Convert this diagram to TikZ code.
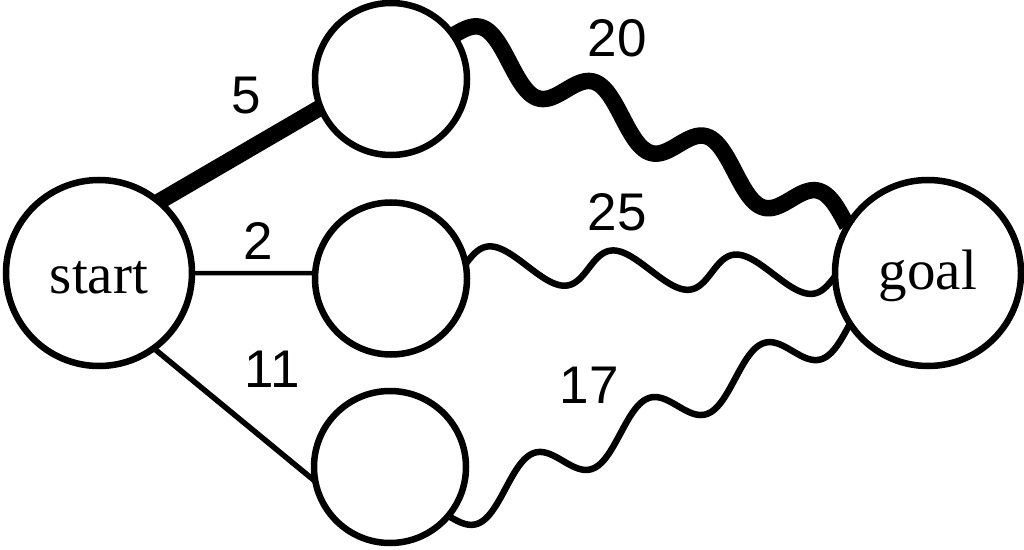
\documentclass[tikz,border=0pt]{standalone}
\usepackage{fontspec}
\setmainfont{Liberation Serif}
\newfontfamily\labelfont{Liberation Sans}
\usetikzlibrary{calc}
\begin{document}
\begin{tikzpicture}[x=1pt,y=1pt,
  bignode/.style={circle, draw, line width=6.5pt, minimum size=186pt, inner sep=0pt, outer sep=0pt, font=\fontsize{57}{60}\selectfont, text height=41pt},
  smallnode/.style={circle, draw, line width=6.5pt, minimum size=152pt, inner sep=0pt, outer sep=0pt},
  weight/.style={font=\labelfont\fontsize{53}{58}\selectfont, inner sep=0pt},
  heavy/.style={line width=16.5pt},
  thinline/.style={line width=#1},
  wave/.style n args={3}{to path={
    let \p1=(\tikztostart), \p2=(\tikztotarget),
        \n1={atan2(\y2-\y1,\x2-\x1)+90+(#3)} in
    -- plot[variable=\t, domain=0:1, samples=240]
      ({\x1+\t*(\x2-\x1)+(#2)*cos(\n1)*sin(\t*360*(#1))},
       {\y1+\t*(\y2-\y1)+(#2)*sin(\n1)*sin(\t*360*(#1))})
  }},
]
\useasboundingbox (0,0) rectangle (1024,549);
\node[bignode, text depth=0pt] (start) at (99,276) {start};
\node[smallnode] (top) at (391,470) {};
\node[smallnode] (mid) at (391,270.5) {};
\node[smallnode] (bottom) at (390,82) {};
\node[bignode, text depth=7pt] (goal) at (928,276) {goal};

\draw[heavy] (start.50) -- (top.202);
\draw[thinline=4.5pt] (start.0) -- (mid.176);
\draw[thinline=5.5pt] (start.-54) -- (bottom.191);
\draw[heavy, line join=round, wave={3.5}{21}{19}] (top.35) to (goal.150);
\draw[thinline=6.5pt, line join=round, wave={3}{19.5}{19}] (mid.11) to (goal.182);
\draw[thinline=6.5pt, line join=round, wave={3.5}{-21}{-19}] (bottom.-40) to (goal.213);

\node[weight] (w5) at (246,453) {5};
\node[weight] (w2) at (258.5,308) {2};
\node[weight] (w11) at (272.5,180) {11};
\node[weight] (w20) at (617,511) {20};
\node[weight] (w25) at (617,337) {25};
\node[weight] (w17) at (589,164) {17};
\end{tikzpicture}
\end{document}
